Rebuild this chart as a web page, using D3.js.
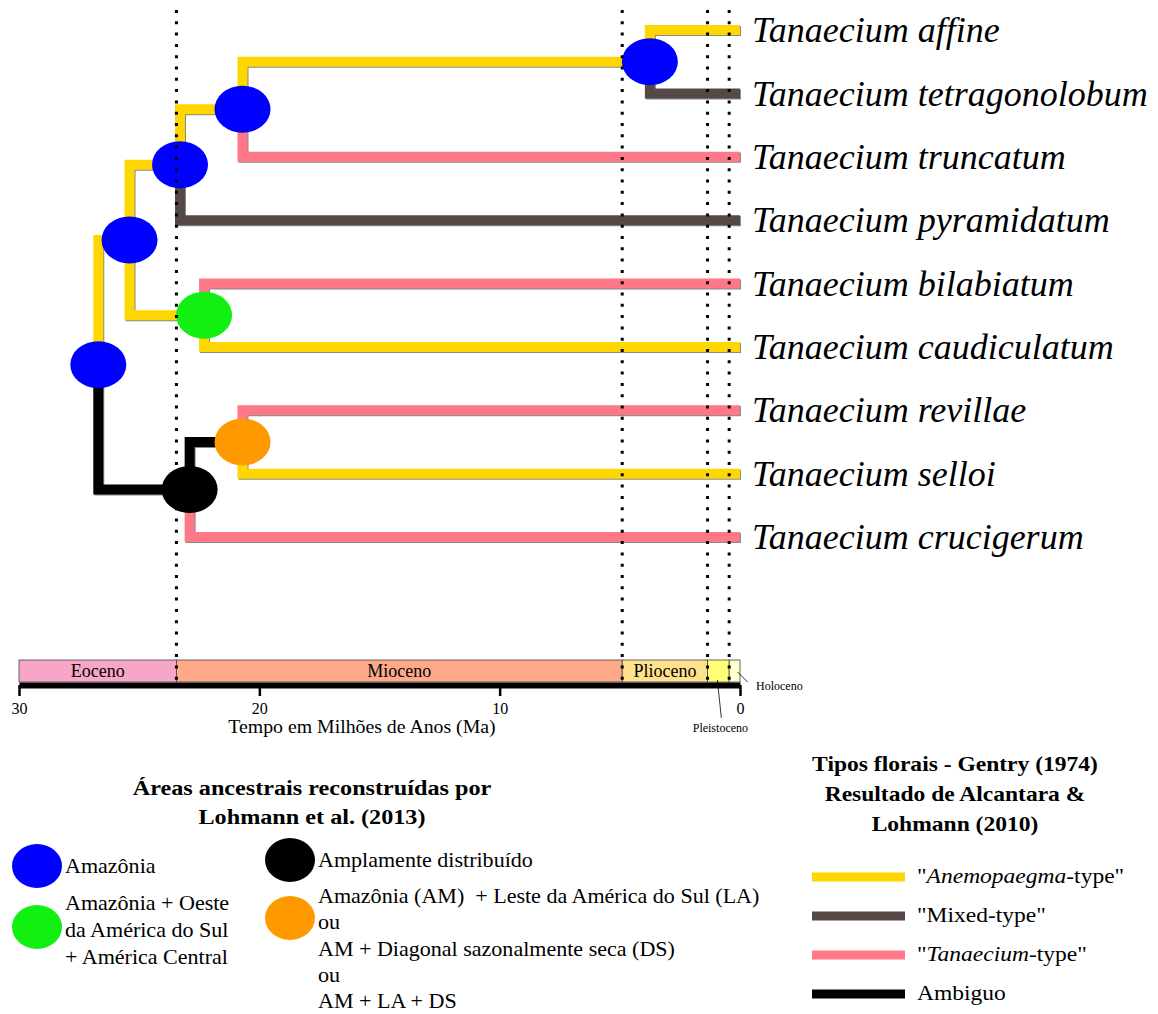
<!DOCTYPE html>
<html>
<head>
<meta charset="utf-8">
<script src="https://cdn.jsdelivr.net/npm/d3@7"></script>
<style>
body { margin: 0; background: #fff; }
svg { display: block; }
text { font-family: "Liberation Serif", "Times New Roman", serif; }
</style>
</head>
<body>
<div id="chart"></div>
<script>
var W = 1158, H = 1014;

// tips, top to bottom
var taxa = ["Tanaecium affine", "Tanaecium tetragonolobum", "Tanaecium truncatum",
            "Tanaecium pyramidatum", "Tanaecium bilabiatum", "Tanaecium caudiculatum",
            "Tanaecium revillae", "Tanaecium selloi", "Tanaecium crucigerum"];
var tipParent = ["n4", "n4", "n3", "n2", "n5", "n5", "n7", "n7", "n6"];
var tipType   = ["anem", "mixed", "tan", "mixed", "tan", "anem", "tan", "anem", "tan"];

// internal nodes (age in Ma)
var nodeIds    = ["n0", "n1", "n2", "n3", "n4", "n5", "n6", "n7"];
var nodeParent = [null, "n0", "n1", "n2", "n3", "n1", "n0", "n6"];
var nodeAge    = [26.7, 25.4, 23.3, 20.7, 3.75, 22.3, 22.9, 20.7];
var nodeArea   = ["AM", "AM", "AM", "AM", "AM", "AMOC", "wide", "AMLADS"];
var nodeType   = [null, "anem", "anem", "anem", "anem", "anem", "amb", "amb"]; // branch leading to node

// geologic time
var epochNames = ["Eoceno", "Mioceno", "Plioceno", "Pleistoceno", "Holoceno"];
var epochStart = [30, 23.45, 4.9, 1.35, 0.45];
var epochEnd   = [23.45, 4.9, 1.35, 0.45, 0];
var epochColor = ["#f7a6c8", "#fea98a", "#ffe08c", "#ffff78", "#ffffd2"];
var timeTicks  = [30, 20, 10, 0];

// legends
var typeKeys   = ["anem", "mixed", "tan", "amb"];
var typeColors = ["#ffd700", "#574848", "#ff7888", "#000000"];
var areaKeys   = ["AM", "AMOC", "wide", "AMLADS"];
var areaColors = ["#0000ff", "#11f011", "#000000", "#ff9900"];

var typeColor = d3.scaleOrdinal().domain(typeKeys).range(typeColors);
var areaColor = d3.scaleOrdinal().domain(areaKeys).range(areaColors);

var x = d3.scaleLinear().domain([30, 0]).range([19, 740]);
var y = d3.scalePoint().domain(taxa).range([30, 537]);

var svg = d3.select("#chart").append("svg")
    .attr("width", W)
    .attr("height", H);

svg.append("rect").attr("width", W).attr("height", H).attr("fill", "#fff");

// widen text horizontally around its x anchor (the source text is a bit stretched)
function stretch(sel, k) {
  sel.attr("transform", function() {
    var x0 = +d3.select(this).attr("x");
    return "translate(" + (x0 * (1 - k)) + ",0) scale(" + k + ",1)";
  });
}

// build the tree
var nodes = {};
nodeIds.forEach(function(id, i) {
  nodes[id] = { id: id, parent: nodeParent[i], x: x(nodeAge[i]), type: nodeType[i], area: nodeArea[i], kids: [] };
});
var tips = taxa.map(function(t, i) {
  return { id: t, parent: tipParent[i], x: x(0), y: y(t), type: tipType[i] };
});
tips.forEach(function(t) { nodes[t.parent].kids.push(t); });
nodeIds.forEach(function(id) { var p = nodes[id].parent; if (p) nodes[p].kids.push(nodes[id]); });

function setY(n) {
  if (n.y !== undefined) return n.y;
  n.y = d3.mean(n.kids, setY);
  return n.y;
}
setY(nodes.n0);

var edges = [];
tips.forEach(function(t) { edges.push({ p: nodes[t.parent], c: t }); });
nodeIds.forEach(function(id) { var n = nodes[id]; if (n.parent) edges.push({ p: nodes[n.parent], c: n }); });

function elbow(e) {
  return "M" + e.p.x + "," + e.p.y + "V" + e.c.y + "H" + e.c.x;
}

var gTree = svg.append("g");

// faint shadow under branches
gTree.selectAll("path.shadow")
  .data(edges)
  .join("path")
    .attr("class", "shadow")
    .attr("d", elbow)
    .attr("transform", "translate(1,1)")
    .attr("fill", "none")
    .attr("stroke", "#8a8a8a")
    .attr("stroke-width", 10);

gTree.selectAll("path.branch")
  .data(edges)
  .join("path")
    .attr("class", "branch")
    .attr("d", elbow)
    .attr("fill", "none")
    .attr("stroke", function(e) { return typeColor(e.c.type); })
    .attr("stroke-width", 10);

gTree.selectAll("ellipse")
  .data(nodeIds.map(function(id) { return nodes[id]; }))
  .join("ellipse")
    .attr("cx", function(d) { return d.x; })
    .attr("cy", function(d) { return d.y; })
    .attr("rx", 28)
    .attr("ry", 23.5)
    .attr("fill", function(d) { return areaColor(d.area); });

gTree.selectAll("text.tip")
  .data(tips)
  .join("text")
    .attr("class", "tip")
    .attr("x", 752)
    .attr("y", function(d) { return d.y; })
    .attr("dy", "0.34em")
    .attr("font-size", 36)
    .attr("font-style", "italic")
    .text(function(d) { return d.id; });

// epoch bar
var barY = 660, barH = 22;
var epochs = epochNames.map(function(n, i) { return { name: n, s: epochStart[i], e: epochEnd[i], c: epochColor[i] }; });

svg.selectAll("rect.epoch")
  .data(epochs)
  .join("rect")
    .attr("class", "epoch")
    .attr("x", function(d) { return x(d.s); })
    .attr("y", barY)
    .attr("width", function(d) { return x(d.e) - x(d.s); })
    .attr("height", barH)
    .attr("fill", function(d) { return d.c; })
    .attr("stroke", "#444")
    .attr("stroke-width", 0.8);

svg.selectAll("text.epoch")
  .data(epochs.slice(0, 3))
  .join("text")
    .attr("class", "epoch")
    .attr("x", function(d) { return (x(d.s) + x(d.e)) / 2; })
    .attr("y", barY + 17)
    .attr("text-anchor", "middle")
    .attr("font-size", 18)
    .text(function(d) { return d.name; });

// small labels with leader lines
var pl = epochs[3], ho = epochs[4];
var plx = (x(pl.s) + x(pl.e)) / 2, hox = (x(ho.s) + x(ho.e)) / 2;
svg.append("line")
  .attr("x1", plx - 1).attr("y1", barY + 20)
  .attr("x2", plx + 3).attr("y2", barY + 58)
  .attr("stroke", "#000").attr("stroke-width", 0.8);
svg.append("text")
  .attr("x", plx + 2).attr("y", barY + 72)
  .attr("text-anchor", "middle")
  .attr("font-size", 12)
  .text(pl.name);
svg.append("line")
  .attr("x1", hox + 3).attr("y1", barY + 12)
  .attr("x2", hox + 13).attr("y2", barY + 22)
  .attr("stroke", "#000").attr("stroke-width", 0.8);
svg.append("text")
  .attr("x", 756).attr("y", barY + 30)
  .attr("font-size", 12)
  .text(ho.name);

// axis
var axis = svg.append("g")
  .attr("transform", "translate(0," + (barY + barH + 3) + ")")
  .call(d3.axisBottom(x).tickValues(timeTicks).tickFormat(d3.format("d"))
        .tickSizeInner(11).tickSizeOuter(0).tickPadding(7));
axis.select(".domain").attr("stroke-width", 6);
axis.selectAll(".tick line").attr("stroke-width", 2.5);
axis.selectAll(".tick text")
  .attr("font-family", "Liberation Sans, Arial, sans-serif")
  .attr("font-size", 16)
  .attr("fill", "#000");

svg.append("text")
  .attr("x", 362).attr("y", 733)
  .attr("text-anchor", "middle")
  .attr("font-size", 18)
  .text("Tempo em Milhões de Anos (Ma)")
  .call(stretch, 1.1);

// dotted epoch boundaries, over everything
svg.selectAll("line.bound")
  .data(epochStart.slice(1))
  .join("line")
    .attr("class", "bound")
    .attr("x1", function(d) { return x(d); })
    .attr("x2", function(d) { return x(d); })
    .attr("y1", 10)
    .attr("y2", barY + barH)
    .attr("stroke", "#000")
    .attr("stroke-width", 3)
    .attr("stroke-dasharray", "3,8.3");

// legend: ancestral areas
var gA = svg.append("g");
gA.selectAll("text.title")
  .data(["Áreas ancestrais reconstruídas por", "Lohmann et al. (2013)"])
  .join("text")
    .attr("class", "title")
    .attr("x", 312)
    .attr("y", function(d, i) { return 795 + i * 29; })
    .attr("text-anchor", "middle")
    .attr("font-size", 22)
    .attr("font-weight", "bold")
    .text(function(d) { return d; })
    .call(stretch, 1.1);

var areaItems = [
  { k: "AM", cx: 37, cy: 866, tx: 65, lines: [[873, "Amazônia"]] },
  { k: "AMOC", cx: 37, cy: 927, tx: 65, lines: [[910, "Amazônia + Oeste"], [937, "da América do Sul"], [964, "+ América Central"]] },
  { k: "wide", cx: 290, cy: 860, tx: 318, lines: [[867, "Amplamente distribuído"]] },
  { k: "AMLADS", cx: 290, cy: 918, tx: 318, lines: [[903, "Amazônia (AM)  + Leste da América do Sul (LA)"], [929, "ou"], [956, "AM + Diagonal sazonalmente seca (DS)"], [982, "ou"], [1008, "AM + LA + DS"]] }
];
areaItems.forEach(function(it) {
  gA.append("ellipse")
    .attr("cx", it.cx).attr("cy", it.cy)
    .attr("rx", 25).attr("ry", 22)
    .attr("fill", areaColor(it.k));
  it.lines.forEach(function(l) {
    gA.append("text")
      .attr("x", it.tx).attr("y", l[0])
      .attr("font-size", 21)
      .style("white-space", "pre")
      .text(l[1])
      .call(stretch, 1.05);
  });
});

// legend: floral types
var gT = svg.append("g");
gT.selectAll("text.title")
  .data(["Tipos florais - Gentry (1974)", "Resultado de Alcantara &", "Lohmann (2010)"])
  .join("text")
    .attr("class", "title")
    .attr("x", 955)
    .attr("y", function(d, i) { return 771 + i * 30; })
    .attr("text-anchor", "middle")
    .attr("font-size", 22)
    .attr("font-weight", "bold")
    .text(function(d) { return d; })
    .call(stretch, 1.07);

var typeLabel = [
  [["\"", false], ["Anemopaegma", true], ["-type\"", false]],
  [["\"Mixed-type\"", false]],
  [["\"", false], ["Tanaecium", true], ["-type\"", false]],
  [["Ambiguo", false]]
];
var legY = d3.scalePoint().domain(typeKeys).range([877, 994]);

gT.selectAll("line.key")
  .data(typeKeys)
  .join("line")
    .attr("class", "key")
    .attr("x1", 812).attr("x2", 905)
    .attr("y1", function(d) { return legY(d); })
    .attr("y2", function(d) { return legY(d); })
    .attr("stroke", function(d) { return typeColor(d); })
    .attr("stroke-width", 9);

gT.selectAll("text.key")
  .data(typeKeys)
  .join("text")
    .attr("class", "key")
    .attr("x", 917)
    .attr("y", function(d) { return legY(d); })
    .attr("dy", "0.3em")
    .attr("font-size", 21)
    .each(function(d, i) {
      var t = d3.select(this);
      typeLabel[i].forEach(function(p) {
        t.append("tspan").attr("font-style", p[1] ? "italic" : "normal").text(p[0]);
      });
    })
    .call(stretch, 1.12);
</script>
</body>
</html>
